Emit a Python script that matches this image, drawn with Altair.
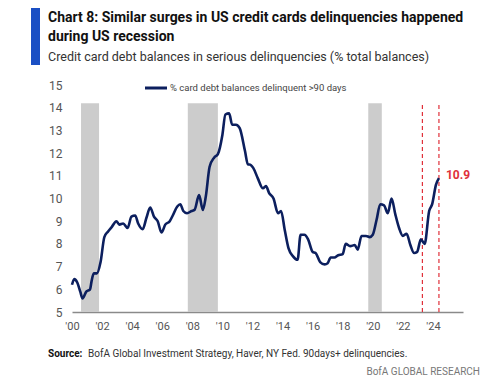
import altair as alt
import pandas as pd

# ---- data ----
years = [2000.0, 2000.15, 2000.35, 2000.55, 2000.7, 2000.95, 2001.2, 2001.3, 2001.45, 2001.65,
         2001.9, 2002.15, 2002.4, 2002.65, 2002.95, 2003.15, 2003.4, 2003.7, 2003.95, 2004.2,
         2004.4, 2004.7, 2004.95, 2005.2, 2005.45, 2005.7, 2005.95, 2006.2, 2006.5, 2006.7,
         2007.0, 2007.2, 2007.4, 2007.65, 2007.95, 2008.15, 2008.45, 2008.7, 2008.9, 2009.15,
         2009.45, 2009.7, 2010.0, 2010.2, 2010.45, 2010.65, 2010.9, 2011.15, 2011.5, 2011.7,
         2011.8, 2012.05, 2012.35, 2012.7, 2012.9, 2013.1, 2013.4, 2013.7, 2013.9, 2014.15,
         2014.4, 2014.7, 2015.0, 2015.2, 2015.45, 2015.7, 2016.0, 2016.2, 2016.5, 2016.8,
         2017.0, 2017.2, 2017.45, 2017.7, 2018.0, 2018.2, 2018.5, 2018.8, 2019.0, 2019.25,
         2019.55, 2019.8, 2020.0, 2020.25, 2020.5, 2020.75, 2021.0, 2021.25, 2021.5, 2021.75,
         2022.0, 2022.25, 2022.5, 2022.75, 2022.95, 2023.2, 2023.45, 2023.75, 2023.95, 2024.2,
         2024.4]
values = [6.2, 6.45, 6.3, 5.9, 5.6, 5.9, 6.0, 6.35, 6.7, 6.7,
          7.2, 8.3, 8.55, 8.75, 9.0, 8.85, 8.9, 8.7, 9.2, 9.25,
          8.9, 8.65, 9.15, 9.6, 9.2, 9.0, 8.5, 8.85, 9.0, 9.25,
          9.65, 9.75, 9.45, 9.35, 9.45, 9.5, 10.15, 9.5, 10.1, 11.4,
          11.8, 11.95, 12.8, 13.7, 13.75, 13.25, 13.25, 13.1, 12.1, 11.5,
          11.5, 11.35, 10.9, 10.45, 10.55, 10.25, 10.0, 9.35, 9.45, 8.6,
          7.8, 7.45, 7.3, 8.4, 8.4, 8.2, 7.65, 7.6, 7.2, 7.1,
          7.15, 7.4, 7.4, 7.5, 7.55, 8.0, 7.9, 7.95, 7.75, 8.35,
          8.35, 8.3, 8.4, 9.05, 9.75, 9.7, 9.35, 10.0, 9.3, 8.7,
          8.35, 8.45, 7.95, 7.6, 7.65, 8.2, 8.0, 9.45, 9.75, 10.6,
          10.9]

recession_start = [2000.6, 2007.7, 2019.7]
recession_end = [2001.8, 2009.7, 2020.6]
band_top = 14.2

marker_years = [2023.3, 2024.4]
last_label = "10.9"

x_ticks = [2000, 2002, 2004, 2006, 2008, 2010, 2012, 2014, 2016, 2018, 2020, 2022, 2024]
y_ticks = [5, 6, 7, 8, 9, 10, 11, 12, 13, 14, 15]

title_lines = ["Chart 8: Similar surges in US credit cards delinquencies happened",
               "during US recession"]
subtitle = "Credit card debt balances in serious delinquencies (% total balances)"
legend_label = "% card debt balances delinquent >90 days"
source_bold = "Source:"
source_rest = "BofA Global Investment Strategy, Haver, NY Fed. 90days+ delinquencies."
brand = "BofA GLOBAL RESEARCH"

FONT = "Roboto, sans-serif"
NAVY = "#0c1f5e"
RED = "#e0303a"

# ---- frames ----
line_df = pd.DataFrame({"year": years, "value": values})
band_df = pd.DataFrame({"start": recession_start, "end": recession_end,
                        "lo": [5] * 3, "hi": [band_top] * 3})
rule_df = pd.DataFrame({"year": marker_years, "lo": [5] * 2, "hi": [band_top] * 2})
last_df = pd.DataFrame({"year": [years[-1]], "value": [values[-1]], "t": [last_label]})

xscale = alt.Scale(domain=[2000, 2026], nice=False, zero=False, padding=0)
yscale = alt.Scale(domain=[5, 15], nice=False, zero=False, padding=0)

xaxis = alt.Axis(values=x_ticks, labelExpr="\"'\" + substring(toString(datum.value), 2)",
                 grid=False, ticks=False, domain=True, domainColor="#8a8a8a", domainWidth=1.5,
                 labelColor="#555555", labelFont=FONT, labelFontSize=11, labelPadding=8,
                 labelOverlap=False, labelFlush=False, labelBound=False, title=None)
yaxis = alt.Axis(values=y_ticks, grid=False, ticks=False, domain=False,
                 labelColor="#555555", labelFont=FONT, labelFontSize=12, labelPadding=10,
                 labelOverlap=False, labelFlush=False, labelBound=False, title=None)

bands = alt.Chart(band_df).mark_rect(color="#cccccc").encode(
    x=alt.X("start:Q", scale=xscale, axis=xaxis),
    x2="end:Q",
    y=alt.Y("lo:Q", scale=yscale, axis=yaxis),
    y2="hi:Q",
)

rules = alt.Chart(rule_df).mark_rule(color=RED, strokeDash=[4, 3], strokeWidth=1.2).encode(
    x=alt.X("year:Q", scale=xscale, axis=xaxis),
    y=alt.Y("lo:Q", scale=yscale, axis=yaxis),
    y2="hi:Q",
)

line = alt.Chart(line_df).mark_line(color=NAVY, strokeWidth=2.6, interpolate="monotone").encode(
    x=alt.X("year:Q", scale=xscale, axis=xaxis),
    y=alt.Y("value:Q", scale=yscale, axis=yaxis),
)

last = alt.Chart(last_df).mark_text(color=RED, fontWeight="bold", fontSize=12, font=FONT,
                                    align="left", dx=7, dy=-3).encode(
    x=alt.X("year:Q", scale=xscale, axis=xaxis),
    y=alt.Y("value:Q", scale=yscale, axis=yaxis),
    text="t:N",
)


def txt(s, x, y, **kw):
    return alt.Chart(pd.DataFrame({"t": [s]})).mark_text(baseline="middle", **kw).encode(
        text="t:N", x=alt.value(x), y=alt.value(y))


legend_line = alt.Chart(pd.DataFrame({"a": [0]})).mark_rule(color=NAVY, strokeWidth=3).encode(
    x=alt.value(73), x2=alt.value(95), y=alt.value(3))

blue_bar = alt.Chart(pd.DataFrame({"a": [0]})).mark_rect(color="#1a4fc4").encode(
    x=alt.value(-41), x2=alt.value(-32), y=alt.value(-79), y2=alt.value(-20))

texts = [
    txt(title_lines[0], -24, -67, align="left", font=FONT, fontSize=14, fontWeight="bold", color="#111111"),
    txt(title_lines[1], -24, -48, align="left", font=FONT, fontSize=14, fontWeight="bold", color="#111111"),
    txt(subtitle, -24, -28, align="left", font=FONT, fontSize=12.5, color="#333333"),
    txt(legend_label, 98, 3, align="left", font=FONT, fontSize=9.5, color="#444444"),
    txt(source_bold, -24, 269, align="left", font=FONT, fontSize=10, fontWeight="bold", color="#111111"),
    txt(source_rest, 16, 269, align="left", font=FONT, fontSize=10, color="#333333"),
    txt(brand, 408, 287, align="right", font=FONT, fontSize=10, color="#777777"),
]

chart = alt.layer(bands, rules, line, last, legend_line, blue_bar, *texts).properties(
    width=391, height=227,
    padding={"left": 64, "top": 77, "right": 29, "bottom": 70},
    autosize=alt.AutoSizeParams(type="none"),
    background="white",
).configure_view(stroke=None)

chart.save("out.html", embed_options={"renderer": "svg", "actions": False})
